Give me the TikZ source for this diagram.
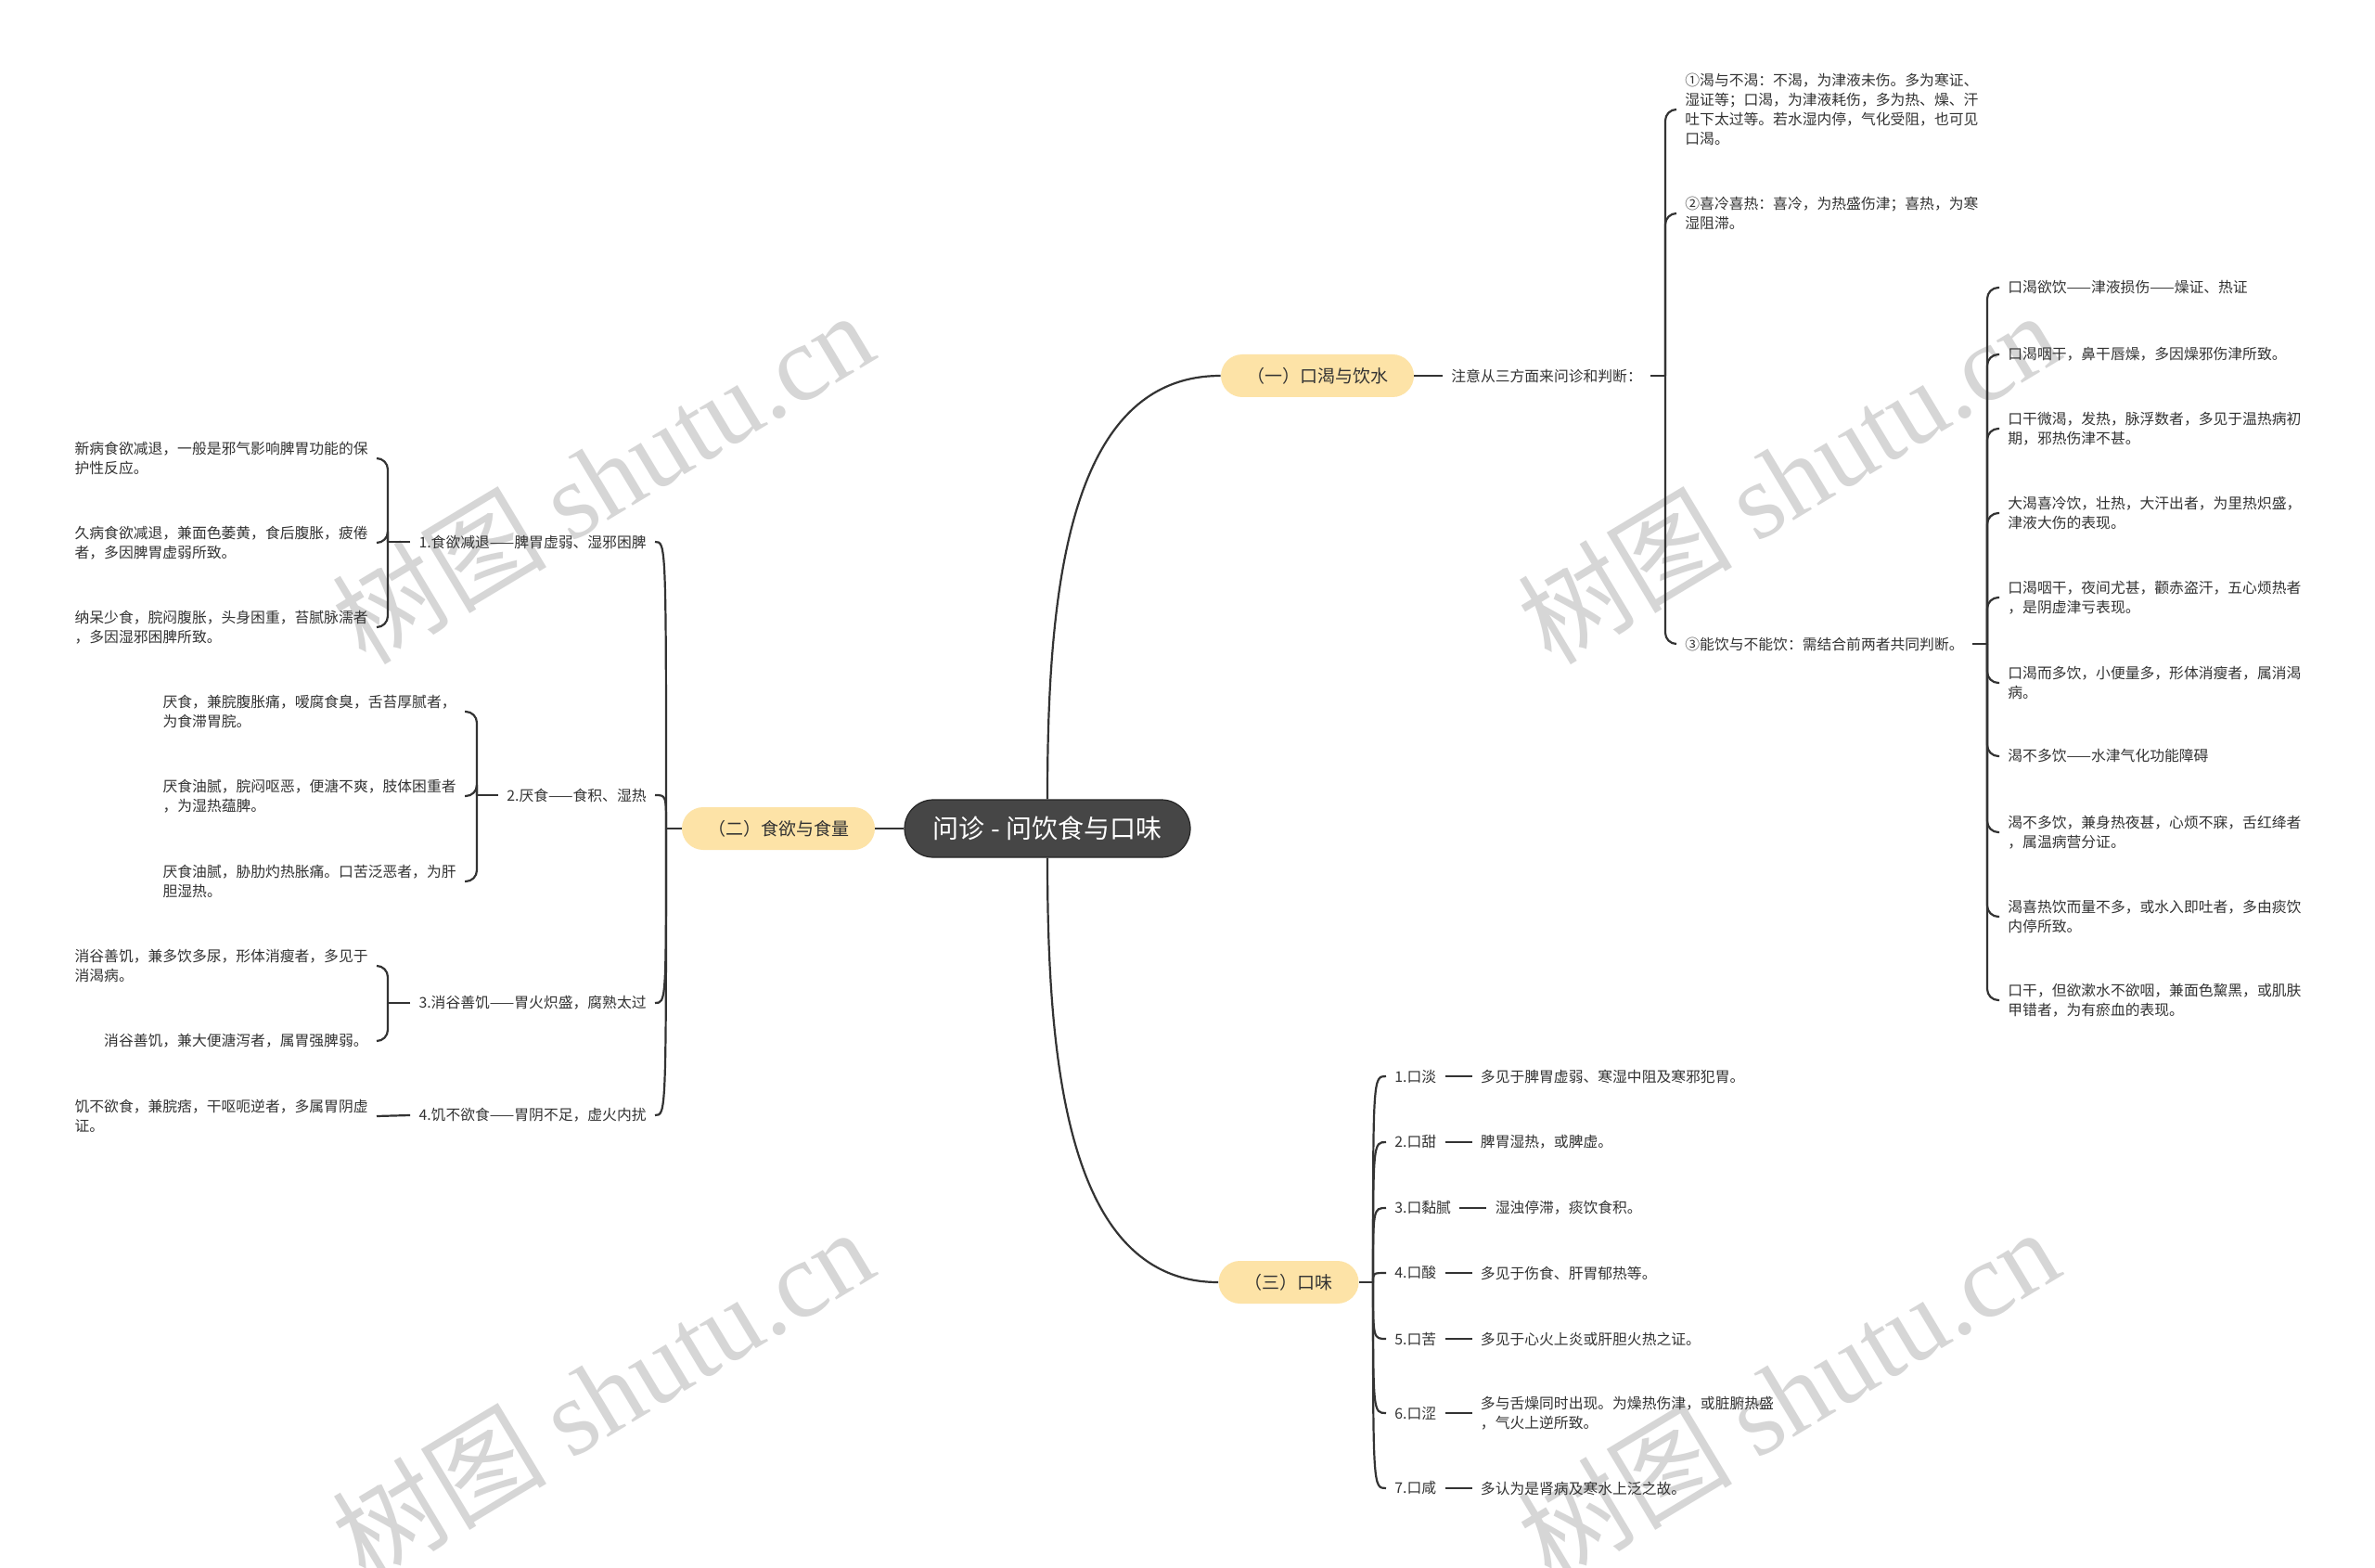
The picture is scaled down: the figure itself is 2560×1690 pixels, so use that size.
\documentclass[tikz,border=0pt]{standalone}
\usepackage{fontspec}
\setmainfont{Noto Sans CJK SC}
\newfontfamily\wmfont{Liberation Serif}
\definecolor{branchfill}{HTML}{FDE3A7}
\definecolor{rootfill}{HTML}{464646}
\definecolor{ink}{HTML}{333333}
\definecolor{wmgray}{HTML}{D6D6D6}
\newcommand{\leafsize}{\fontsize{7.9pt}{10.5pt}\selectfont}
\begin{document}
\begin{tikzpicture}[x=0.5pt,y=-0.5pt,
  conn/.style={draw=ink, line width=1.1pt},
  leafnode/.style={font=\leafsize, text=ink, inner xsep=4.5pt, inner ysep=1pt, align=left},
  branchnode/.style={fill=branchfill, rounded corners=11.5pt, minimum height=23pt, inner xsep=14pt, inner ysep=0pt, font=\fontsize{9.5pt}{11pt}\selectfont, text=ink},
  rootnode/.style={fill=rootfill, draw=black!85, line width=0.6pt, rounded corners=15.5pt, minimum width=154pt, minimum height=31pt, font=\fontsize{14pt}{16pt}\selectfont, text=white},
  wm/.style={text=wmgray, font=\fontsize{58pt}{58pt}\selectfont, rotate=31, inner sep=0pt}
]
\fill[white] (0,0) rectangle (2560,1690);
\useasboundingbox (0,0) rectangle (2560,1690);

% watermarks
\node[wm] (wm1) at (649,514) {树图 {\wmfont shutu.cn}};
\node[wm] (wm2) at (649,1502) {树图 {\wmfont shutu.cn}};
\node[wm] (wm3) at (1927,514) {树图 {\wmfont shutu.cn}};
\node[wm] (wm4) at (1927,1502) {树图 {\wmfont shutu.cn}};

% root and branches
\node[rootnode] (root) at (1129,893) {问诊 - 问饮食与口味};
\node[branchnode] (b1) at (1420,405) {（一）口渴与饮水};
\node[branchnode] (b2) at (839,893) {（二）食欲与食量};
\node[branchnode] (b3) at (1389,1382) {（三）口味};

\draw[conn] (root.west) -- (b2.east);
\draw[conn] (root.north) .. controls (1129,640) and (1150,405) .. (b1.west);
\draw[conn] (root.south) .. controls (1129,1146) and (1150,1382) .. (b3.west);

% ===== (一) =====
\node[leafnode, anchor=west] (n1) at (1555,405) {注意从三方面来问诊和判断：};
\draw[conn] (b1.east) -- (n1.west);
\coordinate (k1) at (1795,405);
\draw[conn] (n1.east) -- (k1);
\node[leafnode, anchor=west] (c11) at (1807,118) {①渴与不渴：不渴，为津液未伤。多为寒证、\\湿证等；口渴，为津液耗伤，多为热、燥、汗\\吐下太过等。若水湿内停，气化受阻，也可见\\口渴。};
\node[leafnode, anchor=west] (c12) at (1807,230) {②喜冷喜热：喜冷，为热盛伤津；喜热，为寒\\湿阻滞。};
\node[leafnode, anchor=west] (c13) at (1807,694) {③能饮与不能饮：需结合前两者共同判断。};
\foreach \c in {c11,c12,c13} \draw[conn, rounded corners=6pt] (k1) |- (\c.west);

\coordinate (k13) at (2142,694);
\draw[conn] (c13.east) -- (k13);
\node[leafnode, anchor=west] (d1) at (2155,310) {口渴欲饮——津液损伤——燥证、热证};
\node[leafnode, anchor=west] (d2) at (2155,382) {口渴咽干，鼻干唇燥，多因燥邪伤津所致。};
\node[leafnode, anchor=west] (d3) at (2155,462) {口干微渴，发热，脉浮数者，多见于温热病初\\期，邪热伤津不甚。};
\node[leafnode, anchor=west] (d4) at (2155,553) {大渴喜冷饮，壮热，大汗出者，为里热炽盛，\\津液大伤的表现。};
\node[leafnode, anchor=west] (d5) at (2155,644) {口渴咽干，夜间尤甚，颧赤盗汗，五心烦热者\\，是阴虚津亏表现。};
\node[leafnode, anchor=west] (d6) at (2155,736) {口渴而多饮，小便量多，形体消瘦者，属消渴\\病。};
\node[leafnode, anchor=west] (d7) at (2155,815) {渴不多饮——水津气化功能障碍};
\node[leafnode, anchor=west] (d8) at (2155,897) {渴不多饮，兼身热夜甚，心烦不寐，舌红绛者\\，属温病营分证。};
\node[leafnode, anchor=west] (d9) at (2155,988) {渴喜热饮而量不多，或水入即吐者，多由痰饮\\内停所致。};
\node[leafnode, anchor=west] (d10) at (2155,1078) {口干，但欲漱水不欲咽，兼面色黧黑，或肌肤\\甲错者，为有瘀血的表现。};
\foreach \d in {d1,d2,d3,d4,d5,d6,d7,d8,d9,d10} \draw[conn, rounded corners=6pt] (k13) |- (\d.west);

% ===== (三) =====
\coordinate (k3) at (1480,1382);
\draw[conn] (b3.east) -- (k3);
\node[leafnode, anchor=west] (e1) at (1494,1160) {1.口淡};
\node[leafnode, anchor=west] (e2) at (1494,1231) {2.口甜};
\node[leafnode, anchor=west] (e3) at (1494,1302) {3.口黏腻};
\node[leafnode, anchor=west] (e4) at (1494,1372) {4.口酸};
\node[leafnode, anchor=west] (e5) at (1494,1443) {5.口苦};
\node[leafnode, anchor=west] (e6) at (1494,1523) {6.口涩};
\node[leafnode, anchor=west] (e7) at (1494,1604) {7.口咸};
\node[leafnode, anchor=west] (e1d) at ([xshift=14.5pt]e1.east) {多见于脾胃虚弱、寒湿中阻及寒邪犯胃。};
\node[leafnode, anchor=west] (e2d) at ([xshift=14.5pt]e2.east) {脾胃湿热，或脾虚。};
\node[leafnode, anchor=west] (e3d) at ([xshift=14.5pt]e3.east) {湿浊停滞，痰饮食积。};
\node[leafnode, anchor=west] (e4d) at ([xshift=14.5pt]e4.east) {多见于伤食、肝胃郁热等。};
\node[leafnode, anchor=west] (e5d) at ([xshift=14.5pt]e5.east) {多见于心火上炎或肝胆火热之证。};
\node[leafnode, anchor=west] (e6d) at ([xshift=14.5pt]e6.east) {多与舌燥同时出现。为燥热伤津，或脏腑热盛\\，气火上逆所致。};
\node[leafnode, anchor=west] (e7d) at ([xshift=14.5pt]e7.east) {多认为是肾病及寒水上泛之故。};
\foreach \e in {e1,e2,e3,e4,e5,e6,e7} {
  \draw[conn] (k3) .. controls (k3 |- \e.west) .. (\e.west);
  \draw[conn] (\e.east) -- (\e d.west);
}

% ===== (二) =====
\coordinate (k2) at (718,893);
\draw[conn] (b2.west) -- (k2);
\node[leafnode, anchor=east] (f1) at (706,584) {1.食欲减退——脾胃虚弱、湿邪困脾};
\node[leafnode, anchor=east] (f2) at (706,857) {2.厌食——食积、湿热};
\node[leafnode, anchor=east] (f3) at (706,1081) {3.消谷善饥——胃火炽盛，腐熟太过};
\node[leafnode, anchor=east] (f4) at (706,1202) {4.饥不欲食——胃阴不足，虚火内扰};
\foreach \f in {f1,f2,f3,f4} \draw[conn] (k2) .. controls (k2 |- \f.east) .. (\f.east);

\coordinate (kf1) at (418,584);
\draw[conn] (f1.west) -- (kf1);
\node[leafnode, anchor=east] (g1) at (406,494) {新病食欲减退，一般是邪气影响脾胃功能的保\\护性反应。};
\node[leafnode, anchor=east] (g2) at (406,585) {久病食欲减退，兼面色萎黄，食后腹胀，疲倦\\者，多因脾胃虚弱所致。};
\node[leafnode, anchor=east] (g3) at (406,676) {纳呆少食，脘闷腹胀，头身困重，苔腻脉濡者\\，多因湿邪困脾所致。};
\foreach \g in {g1,g2,g3} \draw[conn, rounded corners=6pt] (kf1) |- (\g.east);

\coordinate (kf2) at (514,857);
\draw[conn] (f2.west) -- (kf2);
\node[leafnode, anchor=east] (h1) at (501,767) {厌食，兼脘腹胀痛，嗳腐食臭，舌苔厚腻者，\\为食滞胃脘。};
\node[leafnode, anchor=east] (h2) at (501,858) {厌食油腻，脘闷呕恶，便溏不爽，肢体困重者\\，为湿热蕴脾。};
\node[leafnode, anchor=east] (h3) at (501,950) {厌食油腻，胁肋灼热胀痛。口苦泛恶者，为肝\\胆湿热。};
\foreach \h in {h1,h2,h3} \draw[conn, rounded corners=6pt] (kf2) |- (\h.east);

\coordinate (kf3) at (418,1081);
\draw[conn] (f3.west) -- (kf3);
\node[leafnode, anchor=east] (i1) at (406,1041) {消谷善饥，兼多饮多尿，形体消瘦者，多见于\\消渴病。};
\node[leafnode, anchor=east] (i2) at (406,1122) {消谷善饥，兼大便溏泻者，属胃强脾弱。};
\foreach \i in {i1,i2} \draw[conn, rounded corners=6pt] (kf3) |- (\i.east);

\node[leafnode, anchor=east] (j1) at (406,1203) {饥不欲食，兼脘痞，干呕呃逆者，多属胃阴虚\\证。};
\draw[conn] (f4.west) -- (j1.east);
\end{tikzpicture}
\end{document}
